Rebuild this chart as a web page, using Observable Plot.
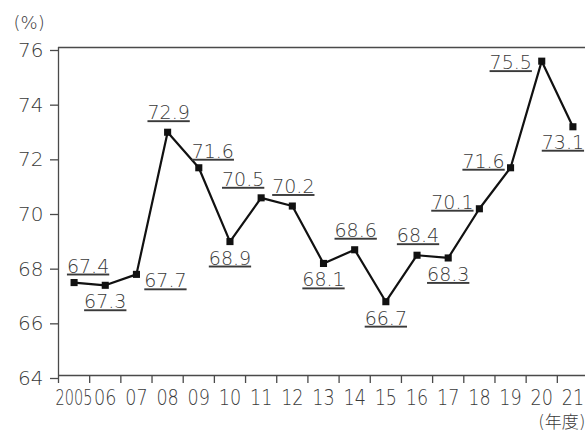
<!DOCTYPE html>
<html>
<head>
<meta charset="utf-8">
<script src="https://cdn.jsdelivr.net/npm/d3@7"></script>
<script src="https://cdn.jsdelivr.net/npm/@observablehq/plot@0.6"></script>
<style>
  html, body { margin: 0; padding: 0; background: #fff; }
  #chart svg { display: block; font-family: "DejaVu Sans", "Noto Sans CJK JP", sans-serif; }
  #chart .value-label text { text-decoration: underline; text-decoration-thickness: 1.3px; text-underline-offset: 3px; }
</style>
</head>
<body>
<div id="chart"></div>
<script>
// Fiscal years and their tick labels
const years = [2005, 2006, 2007, 2008, 2009, 2010, 2011, 2012, 2013, 2014, 2015, 2016, 2017, 2018, 2019, 2020, 2021];
const yearLabels = ["2005", "06", "07", "08", "09", "10", "11", "12", "13", "14", "15", "16", "17", "18", "19", "20", "21"];
// Ratio (%) for each year
const ratio = [67.4, 67.3, 67.7, 72.9, 71.6, 68.9, 70.5, 70.2, 68.1, 68.6, 66.7, 68.4, 68.3, 70.1, 71.6, 75.5, 73.1];
// Where each value label sits relative to its point
const labelPlacement = ["aboveRight", "below", "belowRight", "above", "aboveRight", "below", "aboveLeft", "above",
  "below", "above", "below", "above", "below", "left", "left", "lowerLeft", "belowLeft"];
const yTicks = [64, 66, 68, 70, 72, 74, 76];

const data = years.map((year, i) => ({year, value: ratio[i], label: ratio[i].toFixed(1), place: labelPlacement[i]}));

// label offsets: dx, and where the underline sits relative to the point
const offsets = {
  above:      {dx: 1,   u: -10},
  below:      {dx: 0,   u: 26},
  aboveRight: {dx: 14,  u: -7},
  belowRight: {dx: 29,  u: 16},
  aboveLeft:  {dx: -18, u: -9},
  left:       {dx: -27, u: 3},
  lowerLeft:  {dx: -31, u: 11},
  belowLeft:  {dx: -10, u: 25}
};

const ink = "#3a3a3a";
const thin = 200;
const labelMarks = Object.entries(offsets).map(([place, o]) =>
  Plot.text(data.filter(d => d.place === place), {
    x: "year", y: "value", text: "label",
    dx: o.dx, dy: o.u - 3, lineAnchor: "bottom", textAnchor: "middle",
    fontSize: 19, fill: ink, fontWeight: thin, className: "value-label"
  })
);

const plot = Plot.plot({
  width: 585,
  height: 430,
  marginTop: 47,
  marginBottom: 55,
  marginLeft: 58,
  marginRight: 0,
  x: {type: "linear", domain: [years[0] - 0.5, years[years.length - 1] + 0.5], range: [58, 588]},
  y: {domain: [64, 76]},
  marks: [
    // frame: top, left, bottom
    Plot.ruleY([76], {stroke: "#4a4a4a", strokeWidth: 1.3}),
    Plot.ruleY([64], {stroke: "#4a4a4a", strokeWidth: 1.3}),
    Plot.ruleX([years[0] - 0.5], {stroke: "#4a4a4a", strokeWidth: 1.3}),
    // tick marks between years
    Plot.axisX({ticks: years.map(y => y - 0.5), tickSize: 8, tickFormat: () => "", stroke: "#4a4a4a", strokeWidth: 1.3, label: null}),
    // year labels centred under each point
    Plot.axisX({ticks: years, tickSize: 0, tickPadding: 14, tickFormat: (d) => yearLabels[years.indexOf(d)],
      fontSize: 22, fill: ink, fontWeight: thin, label: null, className: "year-axis"}),
    Plot.axisY({ticks: yTicks, tickSize: 8, tickPadding: 7, fontSize: 20, fill: ink, fontWeight: thin,
      stroke: "#4a4a4a", strokeWidth: 1.3, label: null, dy: 3}),
    Plot.line(data, {x: "year", y: "value", stroke: "#111", strokeWidth: 2.2}),
    Plot.dot(data, {x: "year", y: "value", symbol: "square", r: 4, fill: "#111", stroke: null}),
    ...labelMarks,
    Plot.text(["(%)"], {frameAnchor: "top-left", dx: -45, dy: -19, lineAnchor: "bottom", textAnchor: "start",
      fontSize: 18, fill: ink, fontWeight: thin}),
    Plot.text(["(年度)"], {frameAnchor: "bottom-right", dx: 0, dy: 52, lineAnchor: "bottom", textAnchor: "end",
      fontSize: 17, fill: ink, fontWeight: thin})
  ]
});

// year labels use a condensed face: narrow each one about its own anchor
function squeeze(el, sx) {
  const cx = +(el.getAttribute("x") || 0);
  const t = el.getAttribute("transform") || "";
  el.setAttribute("transform", `${t} translate(${cx},0) scale(${sx},1) translate(${-cx},0)`);
}
plot.querySelectorAll(".year-axis text").forEach((el, i) => squeeze(el, i === 0 ? 0.66 : 0.8));

document.getElementById("chart").appendChild(plot);
</script>
</body>
</html>
